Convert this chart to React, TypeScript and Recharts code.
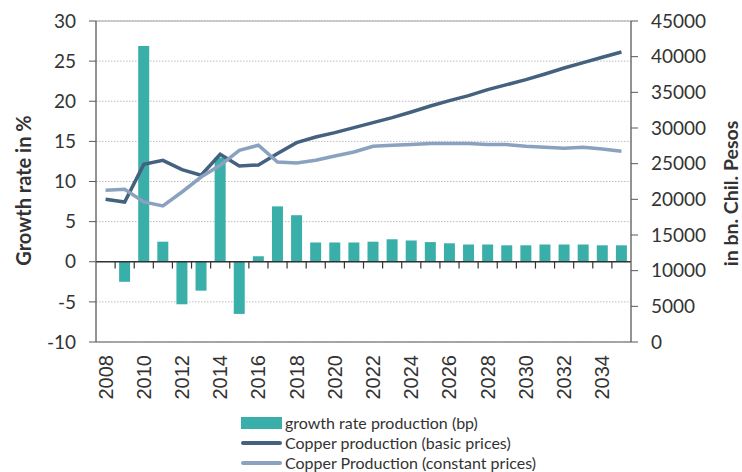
import React from 'react';
import {
  ComposedChart, Bar, Line, XAxis, YAxis, CartesianGrid, ReferenceLine, Legend,
} from 'recharts';

const years = [2008, 2009, 2010, 2011, 2012, 2013, 2014, 2015, 2016, 2017, 2018, 2019, 2020, 2021,
  2022, 2023, 2024, 2025, 2026, 2027, 2028, 2029, 2030, 2031, 2032, 2033, 2034, 2035];

const growthRate = [null, -2.5, 26.9, 2.5, -5.3, -3.6, 13.0, -6.5, 0.7, 6.9, 5.8, 2.4, 2.4, 2.4,
  2.5, 2.8, 2.65, 2.45, 2.3, 2.15, 2.15, 2.05, 2.05, 2.15, 2.15, 2.15, 2.05, 2.05];

const basicPrices = [20000, 19630, 24900, 25470, 24170, 23370, 26310, 24680, 24820, 26410, 27950,
  28740, 29350, 30060, 30760, 31460, 32250, 33090, 33840, 34540, 35380, 36080, 36780, 37570, 38410,
  39170, 39910, 40660];

const constantPrices = [21270, 21410, 19630, 19070, 21030, 23130, 24770, 26880, 27580, 25240, 25100,
  25470, 26080, 26640, 27440, 27580, 27670, 27810, 27810, 27810, 27670, 27670, 27440, 27300, 27160,
  27300, 27060, 26740];

const leftTicks = [-10, -5, 0, 5, 10, 15, 20, 25, 30];
const rightTicks = [0, 5000, 10000, 15000, 20000, 25000, 30000, 35000, 40000, 45000];

const seriesNames = {
  growth: 'growth rate production (bp)',
  basic: 'Copper production (basic prices)',
  constant: 'Copper Production (constant prices)',
};

const data = years.map((y, i) => ({
  year: y,
  growth: growthRate[i],
  basic: basicPrices[i],
  constant: constantPrices[i],
}));

const TEAL = '#3aafa9';
const DARK = '#44617f';
const LIGHT = '#8aa2bf';
const TXT = '#333333';

const legendOrder = ['growth', 'basic', 'constant'];

const renderLegend = (props: any) => {
  const payload = [...(props.payload || [])].sort(
    (a: any, b: any) => legendOrder.indexOf(a.dataKey) - legendOrder.indexOf(b.dataKey)
  );
  return (
    <div style={{ fontFamily: 'Lato', fontSize: 16, color: TXT, lineHeight: '20px' }}>
      {payload.map((entry: any) => (
        <div key={entry.dataKey} style={{ display: 'flex', alignItems: 'center', height: 20, whiteSpace: 'nowrap' }}>
          {entry.type === 'rect' ? (
            <div style={{ width: 41, height: 12, background: entry.color, marginRight: 3 }} />
          ) : (
            <div style={{ width: 41, height: 4, background: entry.color, marginRight: 3, borderRadius: 2 }} />
          )}
          <span>{entry.value}</span>
        </div>
      ))}
    </div>
  );
};

const leftTitle = (props: any) => {
  const vb = props.viewBox;
  const x = vb.x + 22.5;
  const y = vb.y + vb.height / 2 + 9;
  return (
    <text x={x} y={y} transform={`rotate(-90, ${x}, ${y})`}
      textAnchor="middle" dominantBaseline="central" fontFamily="Lato" fontWeight="bold" fontSize={20} fill={TXT}>
      Growth rate in %
    </text>
  );
};

const rightTitle = (props: any) => {
  const vb = props.viewBox;
  const x = vb.x + 99;
  const y = vb.y + vb.height / 2 + 12;
  return (
    <text x={x} y={y} transform={`rotate(-90, ${x}, ${y})`}
      textAnchor="middle" dominantBaseline="central" fontFamily="Lato" fontWeight="bold" fontSize={19.5} fill={TXT}>
      in bn. Chil. Pesos
    </text>
  );
};

const YearTick = (props: any) => {
  const { x, y, payload } = props;
  return (
    <g transform={`translate(${x},${y})`}>
      <text transform="rotate(-90)" textAnchor="end" dominantBaseline="central"
        fontFamily="Liberation Sans" fontSize={20} fill={TXT}>
        {payload.value}
      </text>
    </g>
  );
};

export default function App() {
  return (
    <div style={{ position: 'absolute', left: 0, top: 0, width: 742, height: 472, background: '#fff', overflow: 'hidden' }}>
      <ComposedChart width={742} height={472} data={data} margin={{ top: 21, right: 0, bottom: 70, left: 0 }}>
        <CartesianGrid xAxisId="cat" yAxisId="left" vertical={false} stroke="#bdbdbd" strokeDasharray="1.5 1.5" />
        <XAxis
          xAxisId="cat"
          dataKey="year"
          type="category"
          interval={1}
          height={60}
          tickSize={0}
          tickMargin={13}
          axisLine={{ stroke: '#8c8c8c', strokeWidth: 1.3 }}
          tickLine={false}
          tick={<YearTick />}
        />
        <YAxis
          yAxisId="left"
          orientation="left"
          width={96}
          domain={[-10, 30]}
          ticks={leftTicks}
          interval={0}
          tickSize={7}
          tickMargin={13}
          axisLine={{ stroke: '#595959', strokeWidth: 1.3 }}
          tickLine={{ stroke: '#595959' }}
          tick={{ fontFamily: 'Lato', fontSize: 19, fill: TXT }}
          label={{ content: leftTitle } as any}
        />
        <YAxis
          yAxisId="right"
          orientation="right"
          width={111}
          domain={[0, 45000]}
          ticks={rightTicks}
          interval={0}
          tickSize={7}
          tickMargin={13}
          axisLine={{ stroke: '#595959', strokeWidth: 1.3 }}
          tickLine={{ stroke: '#595959' }}
          tick={{ fontFamily: 'Lato', fontSize: 19, fill: TXT, textAnchor: 'start' } as any}
          label={{ content: rightTitle } as any}
        />
        <ReferenceLine xAxisId="cat" yAxisId="left" y={30} stroke="#a6a6a6" strokeWidth={1.2} />
        <Bar xAxisId="cat" yAxisId="left" dataKey="growth" name={seriesNames.growth} fill={TEAL} barSize={11} isAnimationActive={false} />
        <ReferenceLine xAxisId="cat" yAxisId="left" y={0} stroke="#333333" strokeWidth={1.5} />
        {years.slice(1).map((yr) => (
          <ReferenceLine key={yr} xAxisId="cat" yAxisId="left" position="start"
            segment={[{ x: yr, y: 0 }, { x: yr, y: -0.85 }]} stroke="#333333" strokeWidth={1.2} />
        ))}
        <Line xAxisId="cat" yAxisId="right" dataKey="basic" name={seriesNames.basic} stroke={DARK} strokeWidth={3.5} dot={false} isAnimationActive={false} />
        <Line xAxisId="cat" yAxisId="right" dataKey="constant" name={seriesNames.constant} stroke={LIGHT} strokeWidth={3.5} dot={false} isAnimationActive={false} />
        <Legend
          layout="vertical"
          align="center"
          verticalAlign="middle"
          content={renderLegend}
          wrapperStyle={{ left: 241, top: 413, width: 360 }}
        />
      </ComposedChart>
    </div>
  );
}
